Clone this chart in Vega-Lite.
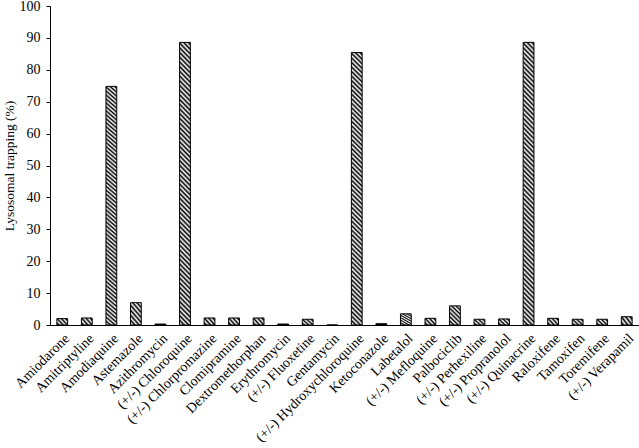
{
  "$schema": "https://vega.github.io/schema/vega-lite/v6.json",
  "autosize": "none",
  "padding": {"left": 50, "top": 6, "right": 0, "bottom": 123},
  "width": 589,
  "height": 319,
  "background": "white",
  "config": {"view": {"stroke": null}},
  "data": {"values": [
    {"drug": "Amiodarone", "value": 2.0},
    {"drug": "Amitriptyline", "value": 2.2},
    {"drug": "Amodiaquine", "value": 74.8},
    {"drug": "Astemazole", "value": 7.0},
    {"drug": "Azithromycin", "value": 0.3},
    {"drug": "(+/-) Chloroquine", "value": 88.6},
    {"drug": "(+/-) Chlorpromazine", "value": 2.2},
    {"drug": "Clomipramine", "value": 2.2},
    {"drug": "Dextromethorphan", "value": 2.2},
    {"drug": "Erythromycin", "value": 0.3},
    {"drug": "(+/-) Fluoxetine", "value": 1.8},
    {"drug": "Gentamycin", "value": 0},
    {"drug": "(+/-) Hydroxychloroquine", "value": 85.4},
    {"drug": "Ketoconazole", "value": 0.4},
    {"drug": "Labetalol", "value": 3.5},
    {"drug": "(+/-) Mefloquine", "value": 2.1},
    {"drug": "Palbociclib", "value": 6.0},
    {"drug": "(+/-) Perhexiline", "value": 1.8},
    {"drug": "(+/-) Propranolol", "value": 1.9},
    {"drug": "(+/-) Quinacrine", "value": 88.6},
    {"drug": "Raloxifene", "value": 2.1},
    {"drug": "Tamoxifen", "value": 1.8},
    {"drug": "Toremifene", "value": 1.8},
    {"drug": "(+/-) Verapamil", "value": 2.6}
  ]},
  "mark": {"type": "bar", "stroke": "#000", "strokeWidth": 1},
  "encoding": {
    "x": {
      "field": "drug", "type": "nominal", "sort": null,
      "scale": {"paddingInner": 0.56, "paddingOuter": 0.28},
      "axis": {
        "title": null, "labelAngle": -45, "ticks": false,
        "domainColor": "#000", "domainWidth": 1,
        "labelColor": "#000", "labelFont": "Liberation Serif", "labelFontSize": 14,
        "labelPadding": 6, "labelLimit": 300
      }
    },
    "y": {
      "field": "value", "type": "quantitative",
      "scale": {"domain": [0, 100], "nice": false},
      "axis": {
        "title": "Lysosomal trapping (%)", "values": [0,10,20,30,40,50,60,70,80,90,100],
        "grid": false, "domainColor": "#000", "tickColor": "#000", "tickSize": 4,
        "labelColor": "#000", "labelFont": "Liberation Serif", "labelFontSize": 14, "labelPadding": 6,
        "titleColor": "#000", "titleFont": "Liberation Serif", "titleFontSize": 13.5, "titleFontWeight": "normal",
        "titlePadding": 3
      }
    },
    "fill": {
      "condition": [
        {"test": "datum.value > 50", "value": {"gradient": "linear", "x1": 0, "y1": 1, "x2": 0.0404, "y2": -0.0376, "stops": [
          {"offset":0,"color":"#000"},{"offset":0.008,"color":"#fff"},{"offset":0.016,"color":"#000"},{"offset":0.024,"color":"#fff"},{"offset":0.032,"color":"#000"},{"offset":0.04,"color":"#fff"},{"offset":0.048,"color":"#000"},{"offset":0.056,"color":"#fff"},{"offset":0.064,"color":"#000"},{"offset":0.072,"color":"#fff"},
          {"offset":0.08,"color":"#000"},{"offset":0.088,"color":"#fff"},{"offset":0.096,"color":"#000"},{"offset":0.104,"color":"#fff"},{"offset":0.112,"color":"#000"},{"offset":0.12,"color":"#fff"},{"offset":0.128,"color":"#000"},{"offset":0.136,"color":"#fff"},{"offset":0.144,"color":"#000"},{"offset":0.152,"color":"#fff"},
          {"offset":0.16,"color":"#000"},{"offset":0.168,"color":"#fff"},{"offset":0.176,"color":"#000"},{"offset":0.184,"color":"#fff"},{"offset":0.192,"color":"#000"},{"offset":0.2,"color":"#fff"},{"offset":0.208,"color":"#000"},{"offset":0.216,"color":"#fff"},{"offset":0.224,"color":"#000"},{"offset":0.232,"color":"#fff"},
          {"offset":0.24,"color":"#000"},{"offset":0.248,"color":"#fff"},{"offset":0.256,"color":"#000"},{"offset":0.264,"color":"#fff"},{"offset":0.272,"color":"#000"},{"offset":0.28,"color":"#fff"},{"offset":0.288,"color":"#000"},{"offset":0.296,"color":"#fff"},{"offset":0.304,"color":"#000"},{"offset":0.312,"color":"#fff"},
          {"offset":0.32,"color":"#000"},{"offset":0.328,"color":"#fff"},{"offset":0.336,"color":"#000"},{"offset":0.344,"color":"#fff"},{"offset":0.352,"color":"#000"},{"offset":0.36,"color":"#fff"},{"offset":0.368,"color":"#000"},{"offset":0.376,"color":"#fff"},{"offset":0.384,"color":"#000"},{"offset":0.392,"color":"#fff"},
          {"offset":0.4,"color":"#000"},{"offset":0.408,"color":"#fff"},{"offset":0.416,"color":"#000"},{"offset":0.424,"color":"#fff"},{"offset":0.432,"color":"#000"},{"offset":0.44,"color":"#fff"},{"offset":0.448,"color":"#000"},{"offset":0.456,"color":"#fff"},{"offset":0.464,"color":"#000"},{"offset":0.472,"color":"#fff"},
          {"offset":0.48,"color":"#000"},{"offset":0.488,"color":"#fff"},{"offset":0.496,"color":"#000"},{"offset":0.504,"color":"#fff"},{"offset":0.512,"color":"#000"},{"offset":0.52,"color":"#fff"},{"offset":0.528,"color":"#000"},{"offset":0.536,"color":"#fff"},{"offset":0.544,"color":"#000"},{"offset":0.552,"color":"#fff"},
          {"offset":0.56,"color":"#000"},{"offset":0.568,"color":"#fff"},{"offset":0.576,"color":"#000"},{"offset":0.584,"color":"#fff"},{"offset":0.592,"color":"#000"},{"offset":0.6,"color":"#fff"},{"offset":0.608,"color":"#000"},{"offset":0.616,"color":"#fff"},{"offset":0.624,"color":"#000"},{"offset":0.632,"color":"#fff"},
          {"offset":0.64,"color":"#000"},{"offset":0.648,"color":"#fff"},{"offset":0.656,"color":"#000"},{"offset":0.664,"color":"#fff"},{"offset":0.672,"color":"#000"},{"offset":0.68,"color":"#fff"},{"offset":0.688,"color":"#000"},{"offset":0.696,"color":"#fff"},{"offset":0.704,"color":"#000"},{"offset":0.712,"color":"#fff"},
          {"offset":0.72,"color":"#000"},{"offset":0.728,"color":"#fff"},{"offset":0.736,"color":"#000"},{"offset":0.744,"color":"#fff"},{"offset":0.752,"color":"#000"},{"offset":0.76,"color":"#fff"},{"offset":0.768,"color":"#000"},{"offset":0.776,"color":"#fff"},{"offset":0.784,"color":"#000"},{"offset":0.792,"color":"#fff"},
          {"offset":0.8,"color":"#000"},{"offset":0.808,"color":"#fff"},{"offset":0.816,"color":"#000"},{"offset":0.824,"color":"#fff"},{"offset":0.832,"color":"#000"},{"offset":0.84,"color":"#fff"},{"offset":0.848,"color":"#000"},{"offset":0.856,"color":"#fff"},{"offset":0.864,"color":"#000"},{"offset":0.872,"color":"#fff"},
          {"offset":0.88,"color":"#000"},{"offset":0.888,"color":"#fff"},{"offset":0.896,"color":"#000"},{"offset":0.904,"color":"#fff"},{"offset":0.912,"color":"#000"},{"offset":0.92,"color":"#fff"},{"offset":0.928,"color":"#000"},{"offset":0.936,"color":"#fff"},{"offset":0.944,"color":"#000"},{"offset":0.952,"color":"#fff"},
          {"offset":0.96,"color":"#000"},{"offset":0.968,"color":"#fff"},{"offset":0.976,"color":"#000"},{"offset":0.984,"color":"#fff"},{"offset":0.992,"color":"#000"},{"offset":1,"color":"#fff"}
        ]}},
        {"test": "datum.value > 3", "value": {"gradient": "linear", "x1": 0, "y1": 1, "x2": 0.654, "y2": -0.19, "stops": [
          {"offset":0,"color":"#000"},{"offset":0.0714,"color":"#fff"},{"offset":0.1429,"color":"#000"},{"offset":0.2143,"color":"#fff"},{"offset":0.2857,"color":"#000"},{"offset":0.3571,"color":"#fff"},{"offset":0.4286,"color":"#000"},{"offset":0.5,"color":"#fff"},{"offset":0.5714,"color":"#000"},{"offset":0.6429,"color":"#fff"},{"offset":0.7143,"color":"#000"},{"offset":0.7857,"color":"#fff"},{"offset":0.8571,"color":"#000"},{"offset":0.9286,"color":"#fff"},{"offset":1,"color":"#000"}
        ]}},
        {"test": "datum.value < 1", "value": "#000"}
      ],
      "value": {"gradient": "linear", "x1": 0, "y1": 1, "x2": 1.183, "y2": 0.314, "stops": [
        {"offset":0,"color":"#fff"},{"offset":0.125,"color":"#000"},{"offset":0.25,"color":"#fff"},{"offset":0.375,"color":"#000"},{"offset":0.5,"color":"#fff"},{"offset":0.625,"color":"#000"},{"offset":0.75,"color":"#fff"},{"offset":0.875,"color":"#000"},{"offset":1,"color":"#fff"}
      ]}
    }
  }
}
